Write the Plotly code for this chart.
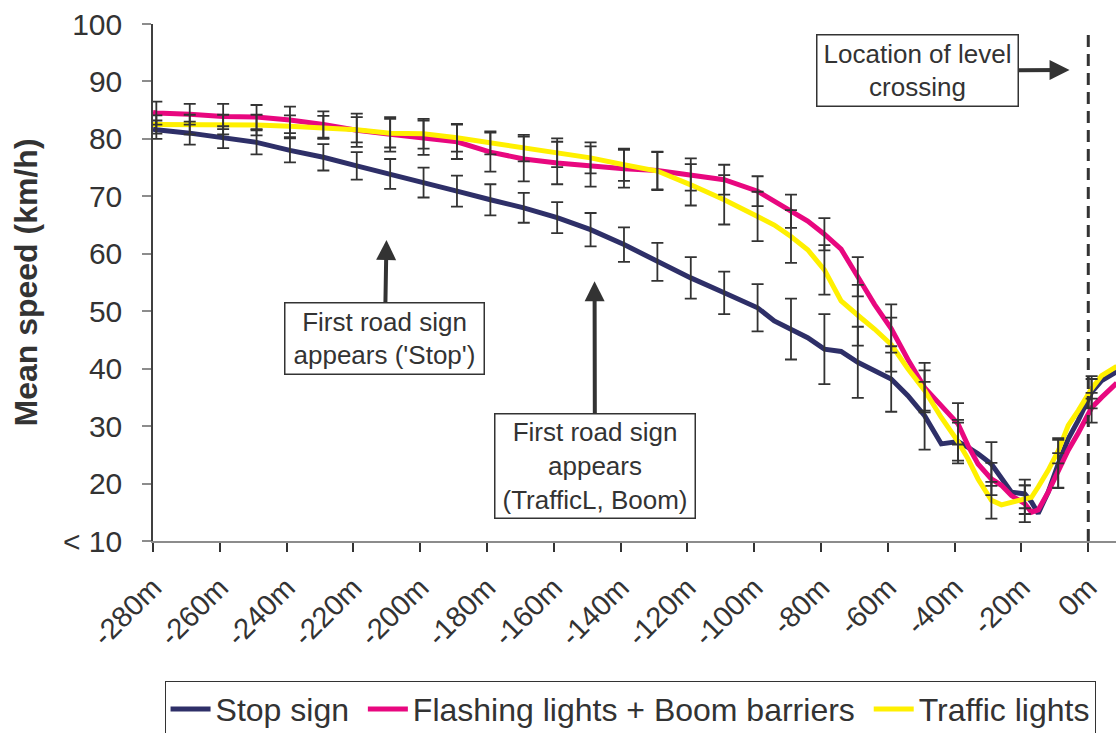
import plotly.graph_objects as go

# distance to level crossing (m)
dist = [-280, -279, -269, -259, -249, -239, -229, -219, -209, -199, -189, -179, -169, -159,
        -149, -139, -129, -119, -109, -99, -94, -89, -84, -79, -74, -69, -64, -59, -54, -49,
        -44, -39, -36, -33, -29, -26, -23, -19, -17, -15, -12, -9, -6, -3, 1, 4, 8.5]

stop_sign = [81.7, 81.6, 81.0, 80.3, 79.4, 78.0, 76.8, 75.3, 73.9, 72.4, 70.9, 69.4, 68.0, 66.3,
             64.2, 61.6, 58.6, 55.8, 53.2, 50.6, 48.3, 46.9, 45.4, 43.4, 43.0, 41.1, 39.6, 38.2, 35.3, 31.8,
             26.9, 27.3, 26.3, 25.2, 23.4, 20.8, 18.5, 18.2, 16.8, 14.8, 18.5, 23.4, 27.8, 31.0, 35.9, 37.9, 39.5]

flashing_boom = [84.6, 84.5, 84.3, 83.9, 83.8, 83.3, 82.5, 81.5, 80.8, 80.2, 79.5, 77.7, 76.5, 75.8,
                 75.2, 74.8, 74.5, 73.8, 72.9, 70.9, 69.2, 67.4, 65.7, 63.4, 60.8, 56.0, 51.2, 47.0, 41.6, 36.7,
                 33.5, 30.4, 26.6, 23.4, 20.8, 19.7, 17.9, 16.5, 15.0, 15.4, 18.5, 22.3, 25.8, 28.8, 33.2, 35.0, 37.5]

traffic_lights = [82.5, 82.5, 82.5, 82.5, 82.4, 82.2, 82.0, 81.6, 81.0, 80.9, 80.2, 79.3, 78.4, 77.6,
                  76.7, 75.5, 74.4, 72.0, 69.4, 66.5, 65.0, 63.0, 60.7, 57.2, 51.8, 49.3, 46.9, 44.2, 40.0, 36.2,
                  31.5, 27.3, 24.3, 20.8, 17.1, 16.3, 16.7, 17.2, 17.6, 19.4, 22.3, 25.7, 30.1, 32.7, 36.5, 38.8, 40.4]

# error-bar positions and half-widths (SD)
err_dist = [-279, -269, -259, -249, -239, -229, -219, -209, -199, -189, -179, -169, -159, -149,
            -139, -129, -119, -109, -99, -89, -79, -69, -59, -49, -39, -29, -19, -9, 1]
stop_err = [1.6, 2.0, 1.9, 2.1, 2.1, 2.3, 2.4, 2.6, 2.6, 2.7, 2.7, 2.6, 2.7, 2.9, 3.0, 3.3, 3.6, 3.7,
            4.1, 5.3, 6.1, 6.2, 5.7, 5.9, 3.8, 3.8, 2.5, 4.2, 2.8]
flash_err = [2.0, 1.8, 2.2, 2.1, 2.3, 2.3, 2.9, 3.0, 3.0, 3.0, 3.4, 3.9, 3.7, 3.5, 3.3, 3.3, 2.8, 2.6,
             2.6, 2.9, 2.8, 3.4, 4.2, 4.3, 3.6, 2.8, 3.2, 3.0, 2.6]
traffic_err = [1.6, 1.7, 1.7, 1.8, 1.9, 2.0, 2.2, 2.5, 2.6, 2.4, 2.0, 2.3, 2.5, 2.7, 2.8, 3.3, 3.6, 4.3,
               4.3, 4.6, 4.3, 5.3, 4.7, 3.5, 3.3, 3.2, 2.5, 2.2, 1.7]

tick_vals = [-280, -260, -240, -220, -200, -180, -160, -140, -120, -100, -80, -60, -40, -20, 0]
tick_text = ["-280m", "-260m", "-240m", "-220m", "-200m", "-180m", "-160m", "-140m", "-120m",
             "-100m", "-80m", "-60m", "-40m", "-20m", "0m"]
y_vals = [10, 20, 30, 40, 50, 60, 70, 80, 90, 100]
y_text = ["< 10", "20", "30", "40", "50", "60", "70", "80", "90", "100"]

names = ["Stop sign\u00a0", "Flashing lights + Boom barriers\u00a0", "Traffic lights"]
colors = ["#2E2F68", "#E8077F", "#FFF000"]
series = [stop_sign, flashing_boom, traffic_lights]
errs = [stop_err, flash_err, traffic_err]

FONT = "Liberation Sans, Arial, sans-serif"
TXT = "#333333"

fig = go.Figure()
for name, col, ys in zip(names, colors, series):
    fig.add_trace(go.Scatter(x=dist, y=ys, mode="lines", name=name,
                             line=dict(color=col, width=5), hoverinfo="skip"))

for ys, e in zip(series, errs):
    cy = [ys[dist.index(d)] for d in err_dist]
    fig.add_trace(go.Scatter(x=err_dist, y=cy, mode="markers", showlegend=False,
                             marker=dict(size=1, color="rgba(0,0,0,0)"),
                             error_y=dict(type="data", array=e, visible=True, color="#333333",
                                          thickness=1.8, width=6),
                             hoverinfo="skip"))

# level crossing line
fig.add_shape(type="line", x0=0, x1=0, y0=10, y1=98.1, xref="x", yref="y",
              line=dict(color="#333333", width=3, dash="12px,7px"))

ann_font = dict(family=FONT, size=26, color=TXT)
fig.add_annotation(x=-210.1, y=62.4, ax=-210.6, ay=45.3, axref="x", ayref="y", xref="x", yref="y",
                   text="First road sign<br>appears ('Stop')", showarrow=True,
                   arrowhead=2, arrowsize=1, arrowwidth=4, arrowcolor="#333333",
                   font=ann_font, bgcolor="white", bordercolor="#333333", borderwidth=1.5,
                   borderpad=0, width=198, height=70)
fig.add_annotation(x=-147.8, y=55.2, ax=-147.7, ay=23.1, axref="x", ayref="y", xref="x", yref="y",
                   text="First road sign<br>appears<br>(TrafficL, Boom)", showarrow=True,
                   arrowhead=2, arrowsize=1, arrowwidth=4, arrowcolor="#333333",
                   font=ann_font, bgcolor="white", bordercolor="#333333", borderwidth=1.5,
                   borderpad=0, width=199, height=103)
fig.add_annotation(x=-5.6, y=92.0, ax=-51.2, ay=91.9, axref="x", ayref="y", xref="x", yref="y",
                   text="Location of level<br>crossing", showarrow=True,
                   arrowhead=2, arrowsize=1, arrowwidth=4, arrowcolor="#333333",
                   font=ann_font, bgcolor="white", bordercolor="#333333", borderwidth=1.5,
                   borderpad=0, width=200, height=70)

fig.update_layout(
    width=1116, height=733,
    margin=dict(l=153, r=0, t=24, b=192, autoexpand=False),
    paper_bgcolor="white", plot_bgcolor="white",
    font=dict(family=FONT, color=TXT, size=26),
    showlegend=True,
    legend=dict(orientation="h", x=0.012, y=-0.27, xanchor="left", yanchor="top",
                bordercolor="#333333", borderwidth=1, bgcolor="white",
                font=dict(family=FONT, size=32, color=TXT), itemwidth=40,
                tracegroupgap=0),
    xaxis=dict(range=[-280, 8.3], tickmode="array", tickvals=tick_vals, ticktext=tick_text,
               tickangle=-45, ticks="outside", ticklen=9, tickcolor="#333333", tickwidth=1.5,
               showline=True, linecolor="#8c8c8c", linewidth=2, showgrid=False, zeroline=False,
               ticklabelstandoff=7, automargin=False,
               tickfont=dict(family=FONT, size=29, color=TXT)),
    yaxis=dict(range=[10, 100], tickmode="array", tickvals=y_vals, ticktext=y_text,
               ticks="outside", ticklen=9, tickcolor="#8c8c8c", tickwidth=1.5,
               showline=True, linecolor="#404040", linewidth=1.5, showgrid=False, zeroline=False,
               ticklabelstandoff=14, automargin=False,
               tickfont=dict(family=FONT, size=30, color=TXT),
               title=dict(text="<b>Mean speed (km/h)</b>", font=dict(family=FONT, size=32, color=TXT),
                          standoff=16)),
)

fig.write_html("out.html")
